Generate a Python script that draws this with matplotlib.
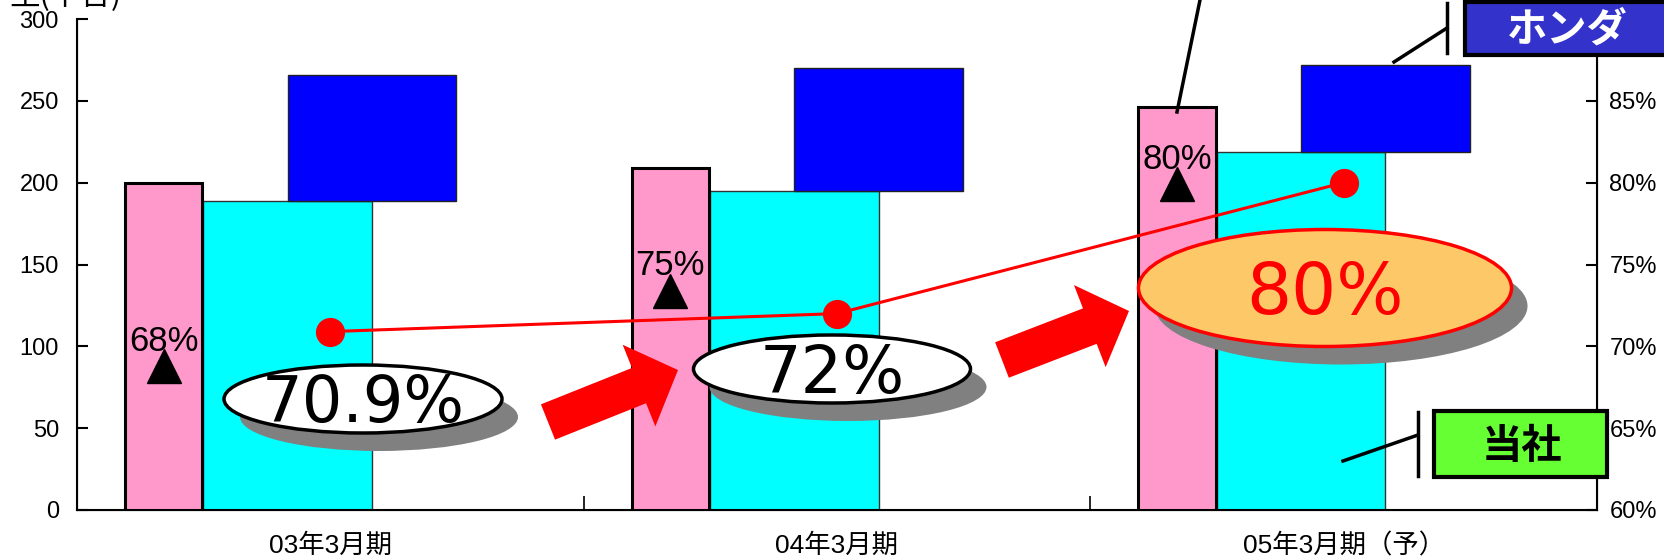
import numpy as np
import matplotlib
matplotlib.use("Agg")
import matplotlib.pyplot as plt
from matplotlib.patches import Ellipse, Rectangle, FancyArrow

plt.rcParams['font.family'] = ['Liberation Sans', 'Noto Sans CJK JP', 'DejaVu Sans']

# データ
categories = ["03年3月期", "04年3月期", "05年3月期（予）"]
pink_vals = [200, 209, 246]        # 左軸 (千台)
tousha_vals = [189, 195, 219]      # 当社
honda_vals = [266, 270, 272]       # ホンダ
rate_vals = [70.9, 72, 80]         # 右軸 (%)
rate_labels = ["70.9%", "72%", "80%"]
tri_vals = [68.8, 73.4, 79.9]      # ▲ の位置 (右軸)
tri_labels = ["68%", "75%", "80%"]

W, H = 1665, 560
fig = plt.figure(figsize=(W / 100, H / 100), dpi=100)
ax = fig.add_axes([77 / W, 50 / H, (1597 - 77) / W, (510 - 19) / H])

x = np.arange(len(categories))
ax.bar(x - 0.084, tousha_vals, 0.333, color='#00FFFF', edgecolor='#333333', linewidth=1, zorder=2)
ax.bar(x + 0.082, np.array(honda_vals) - np.array(tousha_vals), 0.333, bottom=tousha_vals,
       color='#0000FF', edgecolor='#222222', linewidth=1, zorder=2)
ax.bar(x - 0.329, pink_vals, 0.153, color='#FF99CC', edgecolor='black', linewidth=2.2, zorder=3)

ax.set_xlim(-0.5, 2.5)
ax.set_ylim(0, 300)
ax.set_yticks(range(0, 301, 50))
ax.tick_params(axis='y', direction='in', length=8, width=1.5, labelsize=17, pad=13)
ax.set_xticks([0.5, 1.5])
ax.set_xticks(x, minor=True)
ax.set_xticklabels(categories, minor=True, fontsize=19)
ax.tick_params(axis='x', which='major', direction='in', length=10, width=1.2, labelbottom=False)
ax.tick_params(axis='x', which='minor', length=0, pad=17)
ax.spines['top'].set_visible(False)
ax.spines['left'].set_linewidth(1.5)
ax.spines['bottom'].set_linewidth(1.5)

ax2 = ax.twinx()
ax2.set_ylim(60, 90)
ax2.set_yticks(range(60, 86, 5))
ax2.set_yticklabels([f"{v}%" for v in range(60, 86, 5)])
ax2.tick_params(axis='y', direction='in', length=8, width=1.5, labelsize=17, pad=9)
ax2.spines['top'].set_visible(False)
ax2.spines['right'].set_linewidth(1.5)

ax2.plot(x, rate_vals, color='red', lw=2.2, marker='o', ms=20, mfc='red', mec='red', zorder=5)
ax2.plot(x - 0.329, tri_vals, ls='none', marker='^', ms=25, color='black', zorder=5)
for xi, v, lab in zip(x - 0.329, tri_vals, tri_labels):
    ax2.annotate(lab, xy=(xi, v), xytext=(0, 11), textcoords='offset points',
                 ha='center', va='baseline', fontsize=25, zorder=6)

# 注記 (ピクセル座標)
ov = fig.add_axes([0, 0, 1, 1])
ov.set_xlim(0, W)
ov.set_ylim(H, 0)
ov.axis('off')
ov.patch.set_visible(False)

ell_cx = [363, 832, 1325]
ell_cy = [399, 369, 288]
ell_w = [278, 277, 373]
ell_h = [68, 68, 117]
ell_fill = ['white', 'white', '#FDC867']
ell_edge = ['black', 'black', 'red']
ell_text_size = [46, 47, 51]
for i in range(3):
    ov.add_patch(Ellipse((ell_cx[i] + 16, ell_cy[i] + 18), ell_w[i], ell_h[i],
                         facecolor='#808080', edgecolor='none'))
    ov.add_patch(Ellipse((ell_cx[i], ell_cy[i]), ell_w[i], ell_h[i],
                         facecolor=ell_fill[i], edgecolor=ell_edge[i], lw=2.5))
    cap = ell_text_size[i] * 100 / 72 * 0.73
    ov.text(ell_cx[i], ell_cy[i] + cap / 2, rate_labels[i], ha='center', va='baseline',
            fontsize=ell_text_size[i], color=ell_edge[i], family='DejaVu Sans')

for (x0, y0, x1, y1) in [(548, 422, 678, 370), (1002, 360, 1129, 311)]:
    ov.add_patch(FancyArrow(x0, y0, x1 - x0, y1 - y0, width=38, head_width=88, head_length=42,
                            length_includes_head=True, color='red', lw=0))

# ホンダ ラベル
ov.add_patch(Rectangle((1465, 2), 260, 53, facecolor='#3333CC', edgecolor='black', lw=3))
ov.text(1567, 30, "ホンダ", ha='center', va='center', color='white', fontsize=29,
        fontweight='bold', family='Noto Sans CJK JP')
ov.plot([1394, 1447], [62, 28], color='black', lw=2.5)
ov.plot([1447, 1447], [3, 53], color='black', lw=2.5)

# 当社 ラベル
ov.add_patch(Rectangle((1434, 411), 173, 66, facecolor='#66FF33', edgecolor='black', lw=3))
ov.text(1522, 446, "当社", ha='center', va='center', color='black', fontsize=29,
        fontweight='bold', family='Noto Sans CJK JP')
ov.plot([1343, 1418], [461, 435], color='black', lw=2.5)
ov.plot([1418, 1418], [412, 476], color='black', lw=2.5)

# 上部の引き出し線
ov.plot([1177, 1200], [112, 0], color='black', lw=2.5)

# 単位 (上端で切れている)
ov.text(122, 5, "生(千台)", ha='right', va='baseline', fontsize=22, family='Noto Sans CJK JP')

fig.savefig("out.png", dpi=100)
